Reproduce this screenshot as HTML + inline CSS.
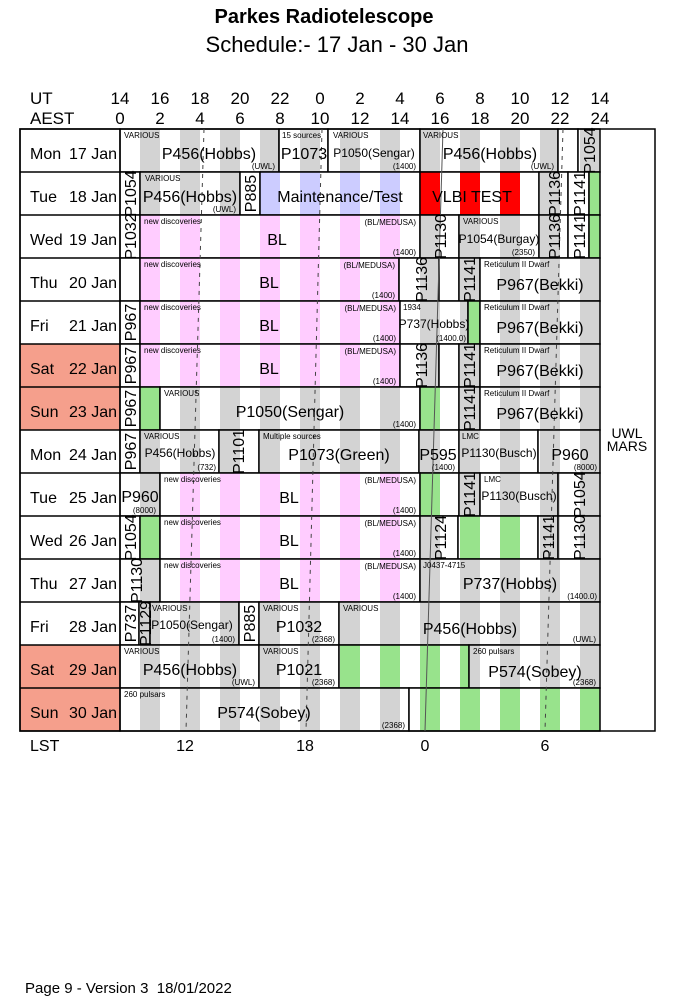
<!DOCTYPE html>
<html><head><meta charset="utf-8"><style>
body{margin:0;background:#fff}
svg{display:block;font-family:"Liberation Sans",Arial,sans-serif}
.m{font-size:16px}.md{font-size:12px}.s{font-size:8px}
.e{text-anchor:end}.c{text-anchor:middle}
.b{stroke:#000;stroke-width:1.5}
</style></head><body>
<svg width="674" height="1008" viewBox="0 0 674 1008" xmlns="http://www.w3.org/2000/svg">
<defs>
<pattern id="g" patternUnits="userSpaceOnUse" width="40" height="50"><rect width="40" height="50" fill="#fff"/><rect x="20" width="20" height="50" fill="#d3d3d3"/></pattern>
<pattern id="p" patternUnits="userSpaceOnUse" width="40" height="50"><rect width="40" height="50" fill="#fff"/><rect x="20" width="20" height="50" fill="#ffccff"/></pattern>
<pattern id="u" patternUnits="userSpaceOnUse" width="40" height="50"><rect width="40" height="50" fill="#fff"/><rect x="20" width="20" height="50" fill="#ccccff"/></pattern>
<pattern id="r" patternUnits="userSpaceOnUse" width="40" height="50"><rect width="40" height="50" fill="#fff"/><rect x="20" width="20" height="50" fill="#ff0000"/></pattern>
<pattern id="n" patternUnits="userSpaceOnUse" width="40" height="50"><rect width="40" height="50" fill="#fff"/><rect x="20" width="20" height="50" fill="#98e38c"/></pattern>
</defs>
<rect width="674" height="1008" fill="#fff"/>
<text x="324" y="23" class="c" font-size="20" font-weight="bold">Parkes Radiotelescope</text>
<text x="337" y="52" class="c" font-size="22">Schedule:- 17 Jan - 30 Jan</text>
<g font-size="17">
<text x="30" y="104">UT</text><text x="30" y="124">AEST</text>
<g class="c">
<text x="120" y="104">14</text><text x="160" y="104">16</text><text x="200" y="104">18</text><text x="240" y="104">20</text><text x="280" y="104">22</text><text x="320" y="104">0</text><text x="360" y="104">2</text><text x="400" y="104">4</text><text x="440" y="104">6</text><text x="480" y="104">8</text><text x="520" y="104">10</text><text x="560" y="104">12</text><text x="600" y="104">14</text>
<text x="120" y="124">0</text><text x="160" y="124">2</text><text x="200" y="124">4</text><text x="240" y="124">6</text><text x="280" y="124">8</text><text x="320" y="124">10</text><text x="360" y="124">12</text><text x="400" y="124">14</text><text x="440" y="124">16</text><text x="480" y="124">18</text><text x="520" y="124">20</text><text x="560" y="124">22</text><text x="600" y="124">24</text>
</g></g>

<g class="m">
<rect x="20" y="344" width="100" height="86" fill="#f59f8c"/>
<rect x="20" y="645" width="100" height="86" fill="#f59f8c"/>
<text x="30" y="159">Mon</text><text x="117" y="159" class="e">17 Jan</text>
<text x="30" y="202">Tue</text><text x="117" y="202" class="e">18 Jan</text>
<text x="30" y="245">Wed</text><text x="117" y="245" class="e">19 Jan</text>
<text x="30" y="288">Thu</text><text x="117" y="288" class="e">20 Jan</text>
<text x="30" y="331">Fri</text><text x="117" y="331" class="e">21 Jan</text>
<text x="30" y="374">Sat</text><text x="117" y="374" class="e">22 Jan</text>
<text x="30" y="417">Sun</text><text x="117" y="417" class="e">23 Jan</text>
<text x="30" y="460">Mon</text><text x="117" y="460" class="e">24 Jan</text>
<text x="30" y="503">Tue</text><text x="117" y="503" class="e">25 Jan</text>
<text x="30" y="546">Wed</text><text x="117" y="546" class="e">26 Jan</text>
<text x="30" y="589">Thu</text><text x="117" y="589" class="e">27 Jan</text>
<text x="30" y="632">Fri</text><text x="117" y="632" class="e">28 Jan</text>
<text x="30" y="675">Sat</text><text x="117" y="675" class="e">29 Jan</text>
<text x="30" y="718">Sun</text><text x="117" y="718" class="e">30 Jan</text>
</g>

<g class="b">
<rect x="120" y="129" width="159" height="43" fill="url(#g)"/>
<rect x="279" y="129" width="49" height="43" fill="url(#g)"/>
<rect x="328" y="129" width="92" height="43" fill="url(#g)"/>
<rect x="420" y="129" width="138" height="43" fill="url(#g)"/>
<rect x="558" y="129" width="20" height="43" fill="#fff"/>
<rect x="578" y="129" width="22" height="43" fill="url(#g)"/>
<rect x="120" y="172" width="20" height="43" fill="#fff"/>
<rect x="140" y="172" width="100" height="43" fill="url(#g)"/>
<rect x="240" y="172" width="20" height="43" fill="#fff"/>
<rect x="260" y="172" width="160" height="43" fill="url(#u)"/>
<rect x="420" y="172" width="119" height="43" fill="url(#r)"/>
<rect x="539" y="172" width="29" height="43" fill="url(#g)"/>
<rect x="568" y="172" width="21" height="43" fill="#fff"/>
<rect x="589" y="172" width="11" height="43" fill="#98e38c"/>
<rect x="120" y="215" width="20" height="43" fill="#fff"/>
<rect x="140" y="215" width="280" height="43" fill="url(#p)"/>
<rect x="420" y="215" width="39" height="43" fill="url(#g)"/>
<rect x="459" y="215" width="80" height="43" fill="url(#g)"/>
<rect x="539" y="215" width="29" height="43" fill="url(#g)"/>
<rect x="568" y="215" width="21" height="43" fill="#fff"/>
<rect x="589" y="215" width="11" height="43" fill="#98e38c"/>
<rect x="120" y="258" width="20" height="43" fill="#fff"/>
<rect x="140" y="258" width="259" height="43" fill="url(#p)"/>
<rect x="399" y="258" width="40" height="43" fill="url(#g)"/>
<rect x="439" y="258" width="20" height="43" fill="#fff"/>
<rect x="459" y="258" width="21" height="43" fill="url(#g)"/>
<rect x="480" y="258" width="120" height="43" fill="url(#g)"/>
<rect x="120" y="301" width="20" height="43" fill="#fff"/>
<rect x="140" y="301" width="260" height="43" fill="url(#p)"/>
<rect x="400" y="301" width="68" height="43" fill="url(#g)"/>
<rect x="468" y="301" width="12" height="43" fill="#98e38c"/>
<rect x="480" y="301" width="120" height="43" fill="url(#g)"/>
<rect x="120" y="344" width="20" height="43" fill="#fff"/>
<rect x="140" y="344" width="260" height="43" fill="url(#p)"/>
<rect x="400" y="344" width="39" height="43" fill="url(#g)"/>
<rect x="439" y="344" width="20" height="43" fill="#fff"/>
<rect x="459" y="344" width="21" height="43" fill="url(#g)"/>
<rect x="480" y="344" width="120" height="43" fill="url(#g)"/>
<rect x="120" y="387" width="20" height="43" fill="#fff"/>
<rect x="140" y="387" width="20" height="43" fill="#98e38c"/>
<rect x="160" y="387" width="260" height="43" fill="url(#g)"/>
<rect x="420" y="387" width="39" height="43" fill="url(#n)"/>
<rect x="459" y="387" width="21" height="43" fill="url(#g)"/>
<rect x="480" y="387" width="120" height="43" fill="url(#g)"/>
<rect x="120" y="430" width="20" height="43" fill="#fff"/>
<rect x="140" y="430" width="79" height="43" fill="url(#g)"/>
<rect x="219" y="430" width="40" height="43" fill="url(#g)"/>
<rect x="259" y="430" width="160" height="43" fill="url(#g)"/>
<rect x="419" y="430" width="40" height="43" fill="url(#g)"/>
<rect x="459" y="430" width="79" height="43" fill="url(#g)"/>
<rect x="538" y="430" width="62" height="43" fill="url(#g)"/>
<rect x="120" y="473" width="40" height="43" fill="url(#g)"/>
<rect x="160" y="473" width="260" height="43" fill="url(#p)"/>
<rect x="420" y="473" width="39" height="43" fill="url(#n)"/>
<rect x="459" y="473" width="21" height="43" fill="url(#g)"/>
<rect x="480" y="473" width="78" height="43" fill="url(#g)"/>
<rect x="558" y="473" width="42" height="43" fill="url(#g)"/>
<rect x="120" y="516" width="20" height="43" fill="#fff"/>
<rect x="140" y="516" width="20" height="43" fill="#98e38c"/>
<rect x="160" y="516" width="260" height="43" fill="url(#p)"/>
<rect x="420" y="516" width="38" height="43" fill="url(#g)"/>
<rect x="458" y="516" width="80" height="43" fill="url(#n)"/>
<rect x="538" y="516" width="20" height="43" fill="url(#g)"/>
<rect x="558" y="516" width="42" height="43" fill="url(#g)"/>
<rect x="120" y="559" width="40" height="43" fill="url(#g)"/>
<rect x="160" y="559" width="260" height="43" fill="url(#p)"/>
<rect x="420" y="559" width="180" height="43" fill="url(#g)"/>
<rect x="120" y="602" width="19" height="43" fill="#fff"/>
<rect x="139" y="602" width="11" height="43" fill="url(#g)"/>
<rect x="150" y="602" width="89" height="43" fill="url(#g)"/>
<rect x="239" y="602" width="20" height="43" fill="#fff"/>
<rect x="259" y="602" width="80" height="43" fill="url(#g)"/>
<rect x="339" y="602" width="261" height="43" fill="url(#g)"/>
<rect x="120" y="645" width="139" height="43" fill="url(#g)"/>
<rect x="259" y="645" width="80" height="43" fill="url(#g)"/>
<rect x="339" y="645" width="130" height="43" fill="url(#n)"/>
<rect x="469" y="645" width="131" height="43" fill="url(#g)"/>
<rect x="120" y="688" width="289" height="43" fill="url(#g)"/>
<rect x="409" y="688" width="191" height="43" fill="url(#n)"/>
<rect x="20" y="129" width="100" height="602" fill="none"/>
<g fill="none">
<line x1="20" y1="172" x2="120" y2="172"/><line x1="20" y1="215" x2="120" y2="215"/><line x1="20" y1="258" x2="120" y2="258"/><line x1="20" y1="301" x2="120" y2="301"/><line x1="20" y1="344" x2="120" y2="344"/><line x1="20" y1="387" x2="120" y2="387"/><line x1="20" y1="430" x2="120" y2="430"/><line x1="20" y1="473" x2="120" y2="473"/><line x1="20" y1="516" x2="120" y2="516"/><line x1="20" y1="559" x2="120" y2="559"/><line x1="20" y1="602" x2="120" y2="602"/><line x1="20" y1="645" x2="120" y2="645"/><line x1="20" y1="688" x2="120" y2="688"/>
</g>
<rect x="20" y="129" width="635" height="602" fill="none"/>
</g>

<g stroke="#444" stroke-width="1" fill="none">
<line x1="204" y1="129" x2="186" y2="731" stroke-dasharray="4,5"/>
<line x1="322" y1="129" x2="306" y2="731" stroke-dasharray="4,5"/>
<line x1="443" y1="129" x2="425" y2="731" stroke="#555"/>
<line x1="563" y1="129" x2="545" y2="731" stroke-dasharray="4,5"/>
</g>

<g class="s">
<text x="124" y="138">VARIOUS</text><text x="282" y="138">15 sources</text><text x="333" y="138">VARIOUS</text><text x="423" y="138">VARIOUS</text>
<text x="275" y="169" class="e">(UWL)</text><text x="416" y="169" class="e">(1400)</text><text x="554" y="169" class="e">(UWL)</text>
<text x="145" y="181">VARIOUS</text><text x="236" y="212" class="e">(UWL)</text>
<text x="144" y="224">new discoveries</text><text x="416" y="225" class="e">(BL/MEDUSA)</text><text x="416" y="255" class="e">(1400)</text>
<text x="463" y="224">VARIOUS</text><text x="535" y="255" class="e">(2350)</text>
<text x="144" y="267">new discoveries</text><text x="395" y="268" class="e">(BL/MEDUSA)</text><text x="395" y="298" class="e">(1400)</text>
<text x="484" y="267">Reticulum II Dwarf</text>
<text x="144" y="310">new discoveries</text><text x="396" y="311" class="e">(BL/MEDUSA)</text><text x="396" y="341" class="e">(1400)</text>
<text x="403" y="310">1934</text><text x="466" y="341" class="e">(1400.0)</text><text x="484" y="310">Reticulum II Dwarf</text>
<text x="144" y="353">new discoveries</text><text x="396" y="354" class="e">(BL/MEDUSA)</text><text x="396" y="384" class="e">(1400)</text>
<text x="484" y="353">Reticulum II Dwarf</text>
<text x="164" y="396">VARIOUS</text><text x="416" y="427" class="e">(1400)</text><text x="484" y="396">Reticulum II Dwarf</text>
<text x="144" y="439">VARIOUS</text><text x="216" y="470" class="e">(732)</text><text x="263" y="439">Multiple sources</text>
<text x="455" y="470" class="e">(1400)</text><text x="462" y="439">LMC</text><text x="597" y="470" class="e">(8000)</text>
<text x="156" y="513" class="e">(8000)</text>
<text x="164" y="482">new discoveries</text><text x="416" y="483" class="e">(BL/MEDUSA)</text><text x="416" y="513" class="e">(1400)</text>
<text x="484" y="482">LMC</text>
<text x="164" y="525">new discoveries</text><text x="416" y="526" class="e">(BL/MEDUSA)</text><text x="416" y="556" class="e">(1400)</text>
<text x="164" y="568">new discoveries</text><text x="416" y="569" class="e">(BL/MEDUSA)</text><text x="416" y="599" class="e">(1400)</text>
<text x="423" y="568">J0437-4715</text><text x="597" y="599" class="e">(1400.0)</text>
<text x="152" y="611">VARIOUS</text><text x="235" y="642" class="e">(1400)</text>
<text x="263" y="611">VARIOUS</text><text x="335" y="642" class="e">(2368)</text>
<text x="343" y="611">VARIOUS</text><text x="596" y="642" class="e">(UWL)</text>
<text x="124" y="654">VARIOUS</text><text x="255" y="685" class="e">(UWL)</text>
<text x="263" y="654">VARIOUS</text><text x="335" y="685" class="e">(2368)</text>
<text x="473" y="654">260 pulsars</text><text x="596" y="685" class="e">(2368)</text>
<text x="124" y="697">260 pulsars</text><text x="405" y="728" class="e">(2368)</text>
</g>
<g class="m c">
<text x="209" y="159">P456(Hobbs)</text><text x="304" y="159">P1073</text><text x="490" y="159">P456(Hobbs)</text>
<text x="190" y="202">P456(Hobbs)</text><text x="340" y="202">Maintenance/Test</text><text x="472" y="202">VLBI TEST</text>
<text x="277" y="245">BL</text>
<text x="269" y="288">BL</text><text x="540" y="290">P967(Bekki)</text>
<text x="269" y="331">BL</text><text x="540" y="333">P967(Bekki)</text>
<text x="269" y="374">BL</text><text x="540" y="376">P967(Bekki)</text>
<text x="290" y="417">P1050(Sengar)</text><text x="540" y="419">P967(Bekki)</text>
<text x="339" y="460">P1073(Green)</text><text x="438" y="460">P595</text><text x="570" y="460">P960</text>
<text x="140" y="502">P960</text><text x="289" y="503">BL</text>
<text x="289" y="546">BL</text>
<text x="289" y="589">BL</text><text x="510" y="589">P737(Hobbs)</text>
<text x="299" y="632">P1032</text><text x="470" y="634">P456(Hobbs)</text>
<text x="190" y="675">P456(Hobbs)</text><text x="299" y="675">P1021</text><text x="535" y="677">P574(Sobey)</text>
<text x="264" y="718">P574(Sobey)</text>
</g>
<g class="md c">
<text x="374" y="157">P1050(Sengar)</text>
<text x="499" y="243">P1054(Burgay)</text>
<text x="434" y="328">P737(Hobbs)</text>
<text x="180" y="457">P456(Hobbs)</text><text x="499" y="457">P1130(Busch)</text>
<text x="519" y="500">P1130(Busch)</text>
<text x="192" y="629">P1050(Sengar)</text>
</g>
<g class="m c">
<text transform="translate(595,150.5) rotate(-90)">P1054</text>
<text transform="translate(136,193.5) rotate(-90)">P1054</text>
<text transform="translate(256,193.5) rotate(-90)">P885</text>
<text transform="translate(560,193.5) rotate(-90)">P1136</text>
<text transform="translate(585,193.5) rotate(-90)">P1141</text>
<text transform="translate(136,236.5) rotate(-90)">P1032</text>
<text transform="translate(446,236.5) rotate(-90)">P1130</text>
<text transform="translate(560,236.5) rotate(-90)">P1136</text>
<text transform="translate(585,236.5) rotate(-90)">P1141</text>
<text transform="translate(427,279.5) rotate(-90)">P1136</text>
<text transform="translate(475,279.5) rotate(-90)">P1141</text>
<text transform="translate(136,322.5) rotate(-90)">P967</text>
<text transform="translate(136,365.5) rotate(-90)">P967</text>
<text transform="translate(427,365.5) rotate(-90)">P1136</text>
<text transform="translate(475,365.5) rotate(-90)">P1141</text>
<text transform="translate(136,408.5) rotate(-90)">P967</text>
<text transform="translate(475,408.5) rotate(-90)">P1141</text>
<text transform="translate(136,451.5) rotate(-90)">P967</text>
<text transform="translate(244,451.5) rotate(-90)">P1101</text>
<text transform="translate(475,494.5) rotate(-90)">P1141</text>
<text transform="translate(585,494.5) rotate(-90)">P1054</text>
<text transform="translate(136,537.5) rotate(-90)">P1054</text>
<text transform="translate(446,537.5) rotate(-90)">P1124</text>
<text transform="translate(554,537.5) rotate(-90)">P1141</text>
<text transform="translate(585,537.5) rotate(-90)">P1130</text>
<text transform="translate(142,580.5) rotate(-90)">P1130</text>
<text transform="translate(136,623.5) rotate(-90)">P737</text>
<text transform="translate(151,623.5) rotate(-90)">P1129</text>
<text transform="translate(255,623.5) rotate(-90)">P885</text>
</g>

<g font-size="14" class="c"><text x="627" y="438">UWL</text><text x="627" y="451">MARS</text></g>

<g font-size="16">
<text x="30" y="751">LST</text>
<text x="185" y="751" class="c">12</text><text x="305" y="751" class="c">18</text><text x="425" y="751" class="c">0</text><text x="545" y="751" class="c">6</text>
</g>
<text x="25" y="993" font-size="15" xml:space="preserve">Page 9 - Version 3  18/01/2022</text>
</svg>
</body></html>
